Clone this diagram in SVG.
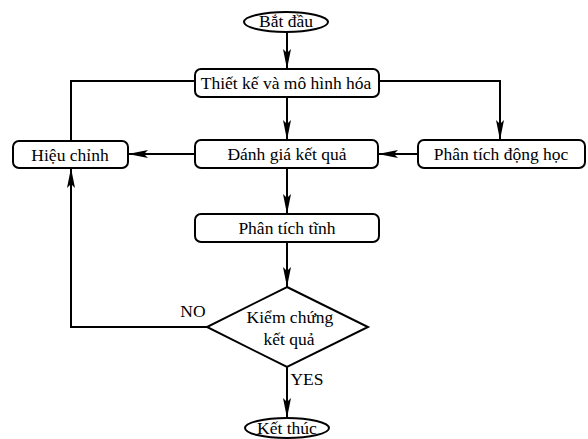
<svg xmlns="http://www.w3.org/2000/svg" width="588" height="439" viewBox="0 0 588 439" font-family="'Liberation Serif', 'Times New Roman', serif">
<defs>
<marker id="ah" viewBox="0 0 20 8" refX="20" refY="4" markerWidth="20" markerHeight="8" markerUnits="userSpaceOnUse" orient="auto">
<path d="M0,0 L20,4 L0,8 L4,4 Z" fill="#000"/>
</marker>
</defs>
<style>
.n{fill:#fff;stroke:#000;stroke-width:2}
.t{font-family:'Liberation Serif','Times New Roman',serif;font-size:17.5px;fill:#000;text-anchor:middle}
.c{fill:none;stroke:#000;stroke-width:2}
</style>
<rect width="588" height="439" fill="#fff"/>
<g id="connectors">
<line class="c" x1="287" y1="32" x2="287" y2="69" marker-end="url(#ah)"/>
<line class="c" x1="287" y1="97" x2="287" y2="140" marker-end="url(#ah)"/>
<polyline class="c" points="195,81 71,81 71,141"/>
<polyline class="c" points="379,81 500,81 500,140" marker-end="url(#ah)"/>
<line class="c" x1="195" y1="154" x2="128" y2="154" marker-end="url(#ah)"/>
<line class="c" x1="418" y1="154" x2="378" y2="154" marker-end="url(#ah)"/>
<line class="c" x1="287" y1="168" x2="287" y2="214" marker-end="url(#ah)"/>
<line class="c" x1="287" y1="242" x2="287" y2="287" marker-end="url(#ah)"/>
<polyline class="c" points="207,327 71,327 71,168" marker-end="url(#ah)"/>
<line class="c" x1="287" y1="367" x2="287" y2="418" marker-end="url(#ah)"/>
<text class="t" x="193" y="317">NO</text>
<text class="t" x="307" y="385">YES</text>
</g>
<g id="start">
<ellipse class="n" cx="286" cy="22" rx="42" ry="10"/>
<text class="t" x="286" y="27">Bắt đầu</text>
</g>
<g id="design">
<rect class="n" x="195" y="69" width="184" height="28" rx="6"/>
<text class="t" x="286" y="89">Thiết kế và mô hình hóa</text>
</g>
<g id="adjust">
<rect class="n" x="13" y="141" width="115" height="27" rx="6"/>
<text class="t" x="70" y="161">Hiệu chỉnh</text>
</g>
<g id="evaluate">
<rect class="n" x="195" y="140" width="183" height="28" rx="6"/>
<text class="t" x="287" y="160">Đánh giá kết quả</text>
</g>
<g id="dynamic">
<rect class="n" x="418" y="140" width="167" height="28" rx="6"/>
<text class="t" x="501" y="160">Phân tích động học</text>
</g>
<g id="static">
<rect class="n" x="195" y="214" width="184" height="28" rx="6"/>
<text class="t" x="287" y="234">Phân tích tĩnh</text>
</g>
<g id="verify">
<polygon class="n" points="287,287 368,327 287,367 207,327"/>
<text class="t" x="290" y="323">Kiểm chứng</text>
<text class="t" x="289" y="345">kết quả</text>
</g>
<g id="end">
<ellipse class="n" cx="287" cy="428" rx="42" ry="10"/>
<text class="t" x="287" y="434">Kết thúc</text>
</g>
</svg>
